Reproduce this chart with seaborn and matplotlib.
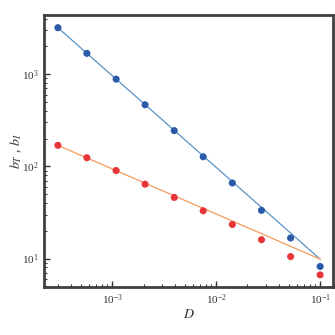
import numpy as np
import pandas as pd
import matplotlib
matplotlib.use("Agg")
import matplotlib.pyplot as plt
import seaborn as sns
from matplotlib.ticker import LogLocator, NullFormatter

# data
D = [3.0e-4, 5.7e-4, 1.09e-3, 2.07e-3, 3.95e-3, 7.5e-3, 1.43e-2, 2.73e-2, 5.2e-2, 1.0e-1]
b_T = [3190, 1680, 883, 465, 244, 127, 66, 33.3, 16.7, 8.2]
b_I = [169, 124, 90, 64, 46, 33, 23.4, 16, 10.5, 6.65]

# fitted power-law lines (end points)
fit_D = [3.0e-4, 1.0e-1]
fit_T = [3190, 9.85]
fit_I = [169, 9.85]

df = pd.DataFrame({"D": D * 2, "b": b_T + b_I,
                   "kind": ["T"] * len(D) + ["I"] * len(D)})
fit = pd.DataFrame({"D": fit_D * 2, "b": fit_T + fit_I,
                    "kind": ["T"] * 2 + ["I"] * 2})

sns.set_theme(style="ticks")
plt.rcParams["font.family"] = ["Liberation Serif", "DejaVu Serif"]
plt.rcParams["mathtext.fontset"] = "stix"

fig = plt.figure(figsize=(3.35, 3.35), dpi=100)
ax = fig.add_axes([0.131, 0.143, 0.863, 0.812])

sns.lineplot(data=fit, x="D", y="b", hue="kind", palette={"T": "#5b93c9", "I": "#f59a5a"},
             lw=0.9, legend=False, ax=ax)
sns.scatterplot(data=df, x="D", y="b", hue="kind", palette={"T": "#2b5aa8", "I": "#e8353a"},
                s=26, edgecolor="none", legend=False, ax=ax, zorder=3)

ax.set_xscale("log")
ax.set_yscale("log")
ax.set_xlim(2.2e-4, 0.133)
ax.set_ylim(4.9, 4370)

for sp in ax.spines.values():
    sp.set_linewidth(2)
    sp.set_color("#404040")

ax.xaxis.set_minor_locator(LogLocator(base=10, subs=np.arange(2, 10)))
ax.yaxis.set_minor_locator(LogLocator(base=10, subs=np.arange(2, 10)))
ax.xaxis.set_minor_formatter(NullFormatter())
ax.yaxis.set_minor_formatter(NullFormatter())
ax.tick_params(which="both", direction="in", top=False, right=False, colors="#333333",
               labelsize=8)
ax.tick_params(which="major", length=4, width=1)
ax.tick_params(which="minor", length=2.5, width=0.8)

ax.set_xlabel(r"$D$", fontsize=10, color="#333333", labelpad=1)
ax.set_ylabel(r"$b_T$ , $b_I$", fontsize=10, color="#333333", labelpad=-1)

fig.savefig("out.png", dpi=100)
